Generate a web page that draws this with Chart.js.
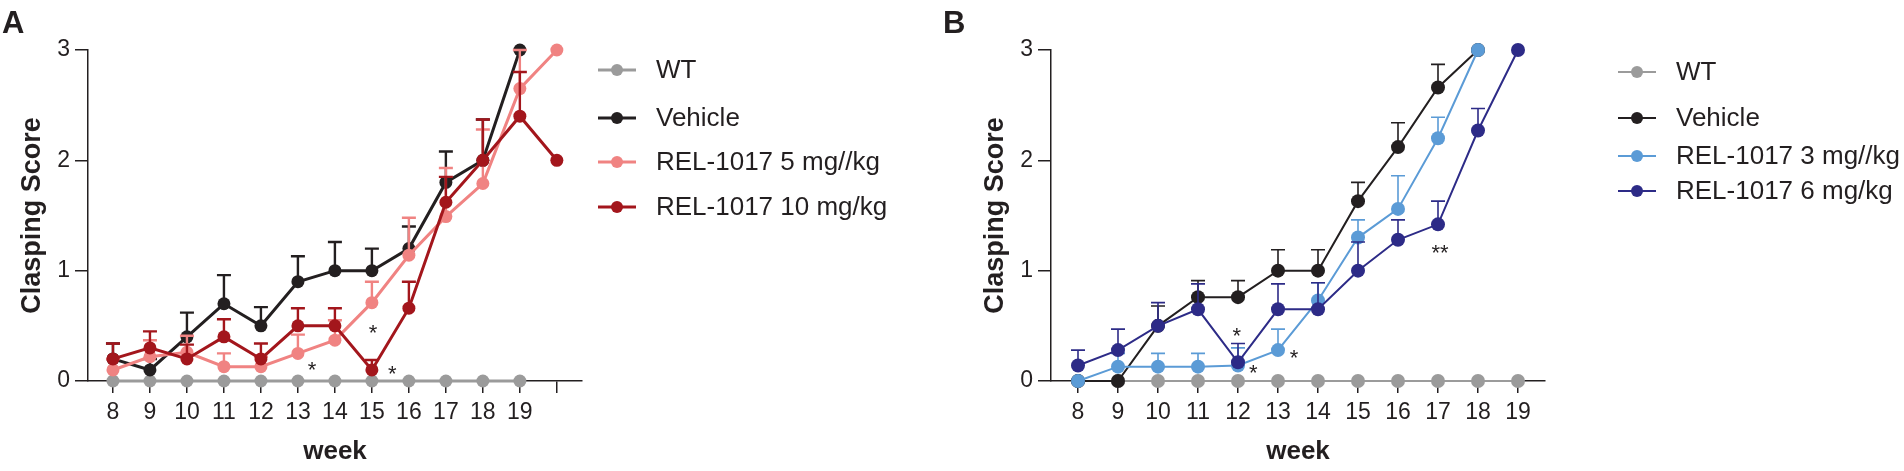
<!DOCTYPE html>
<html>
<head>
<meta charset="utf-8">
<title>Clasping Score</title>
<script src="https://cdn.jsdelivr.net/npm/chart.js@4.4.1/dist/chart.umd.min.js"></script>
<style>
  html, body { margin: 0; padding: 0; background: #fff; }
  body { width: 1904px; height: 471px; position: relative; overflow: hidden; }
  canvas { position: absolute; top: 0; }
  #chartA { left: 0; }
  #chartB { left: 930px; }
</style>
</head>
<body>
<canvas id="chartA" width="930" height="471"></canvas>
<canvas id="chartB" width="974" height="471"></canvas>
<script>
// Semanas (eixo x) //
const weeksA = [8, 9, 10, 11, 12, 13, 14, 15, 16, 17, 18, 19, 20];
const weeksB = [8, 9, 10, 11, 12, 13, 14, 15, 16, 17, 18, 19];
const weekLabels = [8, 9, 10, 11, 12, 13, 14, 15, 16, 17, 18, 19];
const scoreTicks = [0, 1, 2, 3];

// Painel A - médias e topo das barras de erro //
const aWT = [0, 0, 0, 0, 0, 0, 0, 0, 0, 0, 0, 0, null];
const aVehicle = [0.20, 0.10, 0.40, 0.70, 0.50, 0.90, 1.00, 1.00, 1.20, 1.80, 2.00, 3.00, null];
const aVehicleErr = [0.34, 0.20, 0.62, 0.96, 0.67, 1.13, 1.26, 1.20, 1.40, 2.08, 2.37, null, null];
const a5mg = [0.10, 0.22, 0.26, 0.13, 0.13, 0.25, 0.37, 0.71, 1.14, 1.49, 1.79, 2.65, 3.00];
const a5mgErr = [0.20, 0.37, 0.41, 0.25, 0.22, 0.42, 0.55, 0.90, 1.48, 1.93, 2.28, 3.00, null];
const a10mg = [0.20, 0.30, 0.20, 0.40, 0.20, 0.50, 0.50, 0.10, 0.66, 1.62, 2.00, 2.40, 2.00];
const a10mgErr = [0.34, 0.45, 0.33, 0.56, 0.34, 0.66, 0.66, 0.19, 0.90, 1.85, 2.37, 2.80, null];
const aNotes = [
    { x: 13.38, y: 0.13, text: "*" },
    { x: 15.03, y: 0.46, text: "*" },
    { x: 15.55, y: 0.09, text: "*" }
];

// Painel B //
const bWT = [0, 0, 0, 0, 0, 0, 0, 0, 0, 0, 0, 0];
const bVehicle = [0, 0, 0.50, 0.76, 0.76, 1.00, 1.00, 1.63, 2.12, 2.66, 3.00, null];
const bVehicleErr = [null, null, 0.68, 0.91, 0.91, 1.19, 1.19, 1.80, 2.34, 2.87, null, null];
const b3mg = [0, 0.13, 0.13, 0.13, 0.14, 0.28, 0.73, 1.30, 1.56, 2.20, 3.00, null];
const b3mgErr = [null, 0.25, 0.25, 0.25, 0.30, 0.47, 0.89, 1.46, 1.86, 2.39, null, null];
const b6mg = [0.14, 0.28, 0.50, 0.65, 0.17, 0.65, 0.65, 1.00, 1.28, 1.42, 2.27, 3.00];
const b6mgErr = [0.28, 0.47, 0.71, 0.88, 0.34, 0.88, 0.89, 1.26, 1.46, 1.63, 2.47, null];
const bNotes = [
    { x: 11.97, y: 0.44, text: "*" },
    { x: 12.38, y: 0.10, text: "*" },
    { x: 13.40, y: 0.24, text: "*" },
    { x: 17.05, y: 1.19, text: "**" }
];

const FONT = "'Liberation Sans', Arial, Helvetica, sans-serif";
const INK = "#231f20";
const GREY = "#9b9b9b";

Chart.defaults.font.family = FONT;
Chart.defaults.color = INK;

// junta semanas e valores em pontos {x, y} //
function points(weeks, values) {
    return weeks
        .map(function (w, i) { return { x: w, y: values[i] }; })
        .filter(function (p) { return p.y !== null; });
}

function series(label, color, weeks, values, errs, order, width, radius) {
    return {
        label: label,
        data: points(weeks, values),
        errTop: errs ? points(weeks, errs) : [],
        borderColor: color,
        backgroundColor: color,
        pointBackgroundColor: color,
        pointBorderColor: color,
        pointBorderWidth: 0,
        pointRadius: radius,
        borderWidth: width,
        tension: 0,
        clip: false,
        order: order
    };
}

// barras de erro (só para cima) antes de cada série //
const errorBars = {
    id: "errorBars",
    beforeDatasetDraw: function (chart, args) {
        const ds = chart.data.datasets[args.index];
        const ctx = chart.ctx;
        const xs = chart.scales.x;
        const ys = chart.scales.y;
        ctx.save();
        ctx.strokeStyle = ds.borderColor;
        ctx.lineWidth = ds.borderWidth * 0.8;
        ds.errTop.forEach(function (p) {
            const mean = ds.data.find(function (d) { return d.x === p.x; });
            if (!mean || p.y <= mean.y) return;
            const px = xs.getPixelForValue(p.x);
            const y0 = ys.getPixelForValue(mean.y);
            const y1 = ys.getPixelForValue(p.y);
            ctx.beginPath();
            ctx.moveTo(px, y0);
            ctx.lineTo(px, y1);
            ctx.moveTo(px - 7, y1);
            ctx.lineTo(px + 7, y1);
            ctx.stroke();
        });
        ctx.restore();
    }
};

// letra do painel, asteriscos e legenda //
const extras = {
    id: "extras",
    afterDraw: function (chart, args, opts) {
        const ctx = chart.ctx;
        const xs = chart.scales.x;
        const ys = chart.scales.y;
        ctx.save();
        ctx.fillStyle = INK;
        ctx.font = "bold 31px " + FONT;
        ctx.textAlign = "left";
        ctx.textBaseline = "alphabetic";
        ctx.fillText(opts.letter, opts.letterX, 33);

        ctx.font = "22px " + FONT;
        ctx.textAlign = "center";
        ctx.textBaseline = "middle";
        opts.notes.forEach(function (n) {
            ctx.fillText(n.text, xs.getPixelForValue(n.x), ys.getPixelForValue(n.y) + 4);
        });

        ctx.font = "26px " + FONT;
        ctx.textAlign = "left";
        opts.legendOrder.forEach(function (idx, row) {
            const ds = chart.data.datasets[idx];
            const y = opts.legendRows[row];
            ctx.strokeStyle = ds.borderColor;
            ctx.lineWidth = ds.borderWidth;
            ctx.beginPath();
            ctx.moveTo(opts.legendX, y);
            ctx.lineTo(opts.legendX + 38, y);
            ctx.stroke();
            ctx.fillStyle = ds.borderColor;
            ctx.beginPath();
            ctx.arc(opts.legendX + 19, y, 6, 0, Math.PI * 2);
            ctx.fill();
            ctx.fillStyle = INK;
            ctx.fillText(ds.label, opts.legendX + 58, y + 1);
        });
        ctx.restore();
    }
};

function makeChart(id, cfg) {
    return new Chart(document.getElementById(id), {
        type: "line",
        data: { datasets: cfg.datasets },
        options: {
            responsive: false,
            animation: false,
            events: [],
            layout: { padding: { left: 0, top: 50, right: cfg.padRight, bottom: 0 } },
            plugins: {
                legend: { display: false },
                tooltip: { enabled: false },
                extras: cfg.extras
            },
            scales: {
                x: {
                    type: "linear",
                    min: 7.325,
                    max: cfg.xMax,
                    afterBuildTicks: function (scale) {
                        scale.ticks = cfg.tickWeeks.map(function (v) { return { value: v }; });
                    },
                    afterFit: function (scale) { scale.height = 90; },
                    ticks: {
                        autoSkip: false,
                        maxRotation: 0,
                        padding: 6,
                        color: INK,
                        font: { size: 23 },
                        callback: function (v) { return weekLabels.includes(v) ? String(v) : ""; }
                    },
                    grid: { drawOnChartArea: false, drawTicks: true, tickLength: 12, color: INK, lineWidth: 1.5 },
                    border: { display: true, color: INK, width: 1.5 },
                    title: {
                        display: true,
                        text: "week",
                        color: INK,
                        font: { size: 26, weight: "bold" },
                        padding: { top: 0, bottom: 4 }
                    }
                },
                y: {
                    min: 0,
                    max: 3,
                    afterBuildTicks: function (scale) {
                        scale.ticks = scoreTicks.map(function (v) { return { value: v }; });
                    },
                    afterFit: function (scale) { scale.width = cfg.axisLeft; },
                    ticks: { padding: 5, color: INK, font: { size: 23 } },
                    grid: { drawOnChartArea: false, drawTicks: true, tickLength: 13, color: INK, lineWidth: 1.5 },
                    border: { display: true, color: INK, width: 1.5 },
                    title: {
                        display: true,
                        text: "Clasping Score",
                        color: INK,
                        font: { size: 27, weight: "bold" },
                        padding: { top: cfg.titlePad, bottom: 0 }
                    }
                }
            }
        },
        plugins: [errorBars, extras]
    });
}

// Painel A //
makeChart("chartA", {
    datasets: [
        series("WT", GREY, weeksA, aWT, null, 4, 3, 6.5),
        series("Vehicle", INK, weeksA, aVehicle, aVehicleErr, 3, 3, 6.5),
        series("REL-1017 5 mg//kg", "#f08382", weeksA, a5mg, a5mgErr, 2, 3, 6.5),
        series("REL-1017 10 mg/kg", "#a3161c", weeksA, a10mg, a10mgErr, 1, 3, 6.5)
    ],
    xMax: 20.68,
    tickWeeks: weeksA,
    axisLeft: 88,
    padRight: 348,
    titlePad: 16,
    extras: {
        letter: "A",
        letterX: 2,
        notes: aNotes,
        legendOrder: [0, 1, 2, 3],
        legendX: 598,
        legendRows: [70, 118, 162, 207]
    }
});

// Painel B //
makeChart("chartB", {
    datasets: [
        series("WT", GREY, weeksB, bWT, null, 4, 2, 7),
        series("Vehicle", INK, weeksB, bVehicle, bVehicleErr, 3, 2, 7),
        series("REL-1017 3 mg//kg", "#5b9bd6", weeksB, b3mg, b3mgErr, 2, 2, 7),
        series("REL-1017 6 mg/kg", "#2d2b87", weeksB, b6mg, b6mgErr, 1, 2, 7)
    ],
    xMax: 19.675,
    tickWeeks: weeksB,
    axisLeft: 121,
    padRight: 359,
    titlePad: 49,
    extras: {
        letter: "B",
        letterX: 13,
        notes: bNotes,
        legendOrder: [0, 1, 2, 3],
        legendX: 688,
        legendRows: [72, 118, 156, 191]
    }
});
</script>
</body>
</html>
